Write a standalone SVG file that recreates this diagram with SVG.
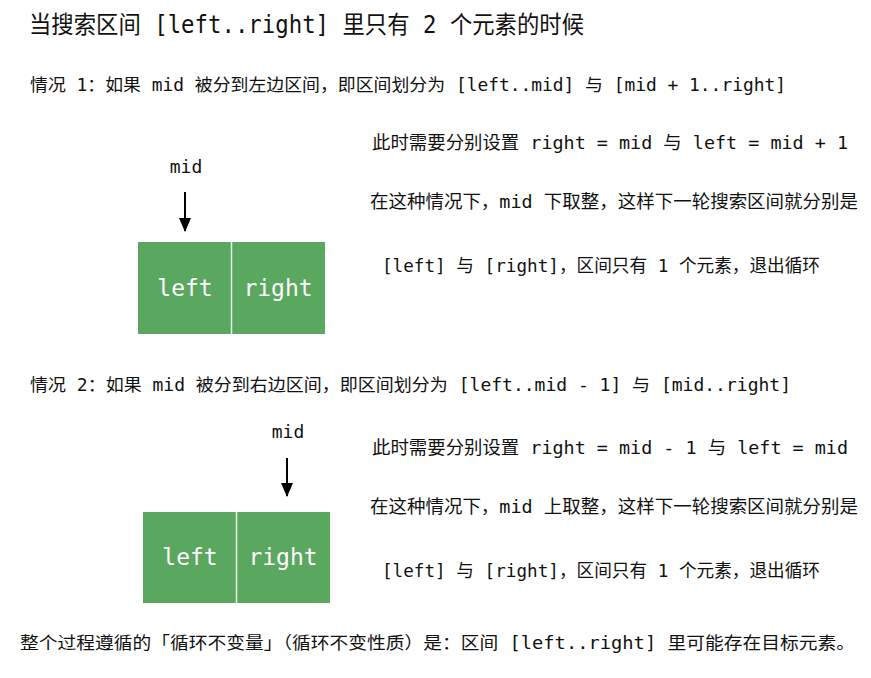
<svg xmlns="http://www.w3.org/2000/svg" width="871" height="678" viewBox="0 0 871 678">
<defs>
<style>
.t{font-family:"DejaVu Sans Mono","Noto Sans CJK SC",monospace;fill:#111}
.h{font-size:24px}
.c{font-size:17px}
.r{font-size:18px}
.m{font-size:18px}
.b{font-family:"DejaVu Sans Mono",monospace;font-size:23px;fill:#fff}
.box{fill:#5aa75f}
.div{stroke:#e8f3e8;stroke-width:1.5}
.arr{stroke:#000;stroke-width:2;fill:none}
</style>
<marker id="ah" viewBox="0 0 14 12" refX="13" refY="6" markerWidth="14" markerHeight="12" markerUnits="userSpaceOnUse" orient="auto">
<path d="M0,0 L14,6 L0,12 z" fill="#000"/>
</marker>
</defs>
<rect width="871" height="678" fill="#fff"/>
<text class="t h" x="29" y="33" textLength="555" lengthAdjust="spacingAndGlyphs">当搜索区间 [left..right] 里只有 2 个元素的时候</text>
<text class="t c" x="30" y="91" textLength="756" lengthAdjust="spacingAndGlyphs">情况 1：如果 mid 被分到左边区间，即区间划分为 [left..mid] 与 [mid + 1..right]</text>

<g id="case1-mid">
<text class="t m" x="186" y="173" text-anchor="middle">mid</text>
</g>
<g id="case1-left">
<rect class="box" x="138" y="242" width="93" height="92"/>
<text class="b" x="185" y="296" text-anchor="middle">left</text>
</g>
<g id="case1-right">
<rect class="box" x="231" y="242" width="94" height="92"/>
<text class="b" x="278" y="296" text-anchor="middle">right</text>
</g>
<line class="div" x1="231.5" y1="242" x2="231.5" y2="334"/>

<text class="t r" x="372" y="149" textLength="476" lengthAdjust="spacingAndGlyphs">此时需要分别设置 right = mid 与 left = mid + 1</text>
<text class="t r" x="370" y="208" textLength="488" lengthAdjust="spacingAndGlyphs">在这种情况下，mid 下取整，这样下一轮搜索区间就分别是</text>
<text class="t r" x="382" y="272" textLength="438" lengthAdjust="spacingAndGlyphs">[left] 与 [right]，区间只有 1 个元素，退出循环</text>

<text class="t c" x="30" y="391" textLength="761" lengthAdjust="spacingAndGlyphs">情况 2：如果 mid 被分到右边区间，即区间划分为 [left..mid - 1] 与 [mid..right]</text>

<g id="case2-mid">
<text class="t m" x="288" y="438" text-anchor="middle">mid</text>
</g>
<g id="case2-left">
<rect class="box" x="143" y="512" width="93" height="91"/>
<text class="b" x="190" y="565" text-anchor="middle">left</text>
</g>
<g id="case2-right">
<rect class="box" x="236" y="512" width="94" height="91"/>
<text class="b" x="283" y="565" text-anchor="middle">right</text>
</g>
<line class="div" x1="236.5" y1="512" x2="236.5" y2="603"/>

<text class="t r" x="372" y="454" textLength="476" lengthAdjust="spacingAndGlyphs">此时需要分别设置 right = mid - 1 与 left = mid</text>
<text class="t r" x="370" y="513" textLength="488" lengthAdjust="spacingAndGlyphs">在这种情况下，mid 上取整，这样下一轮搜索区间就分别是</text>
<text class="t r" x="382" y="577" textLength="438" lengthAdjust="spacingAndGlyphs">[left] 与 [right]，区间只有 1 个元素，退出循环</text>

<text class="t c" x="20" y="649" textLength="835" lengthAdjust="spacingAndGlyphs">整个过程遵循的「循环不变量」（循环不变性质）是：区间 [left..right] 里可能存在目标元素。</text>

<g id="connectors">
<line class="arr" x1="185" y1="192" x2="185" y2="231" marker-end="url(#ah)"/>
<line class="arr" x1="287" y1="458" x2="287" y2="496" marker-end="url(#ah)"/>
</g>
</svg>
